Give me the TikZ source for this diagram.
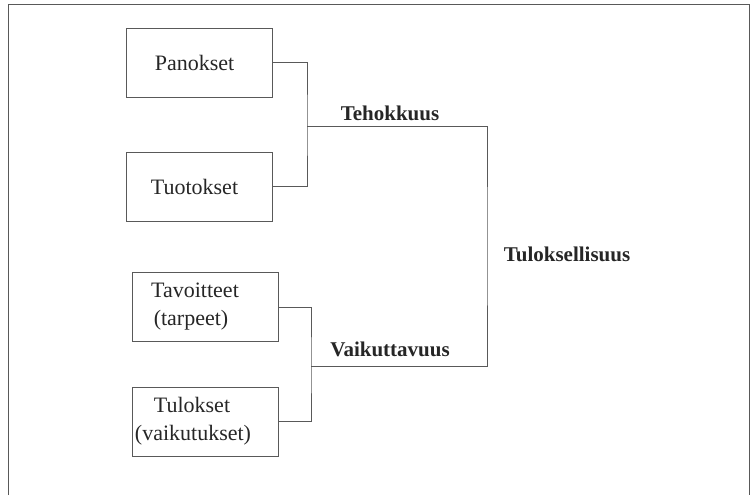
\documentclass[tikz,border=0pt]{standalone}
\usepackage{fontspec}
\setmainfont{Liberation Serif}
\tikzset{
  box/.style={draw=black!65,line width=0.9pt,minimum width=146pt,minimum height=69pt,
    inner sep=0pt,align=center,text=black!85,font=\fontsize{22}{28}\selectfont},
  lbl/.style={text=black!85,font=\fontsize{21}{25}\selectfont\bfseries,inner sep=0pt},
  link/.style={draw=black!65,line width=0.9pt}
}
\begin{document}
\begin{tikzpicture}[x=1pt,y=-1pt]
\useasboundingbox (0,0) rectangle (751,495);
\draw[link] (8,495) -- (8,4) -- (749,4) -- (749,495);
\node[box] (pan) at (199.5,62.5) {Panokset\hspace*{10pt}};
\node[box] (tuo) at (199.5,186.5) {Tuotokset\hspace*{10pt}};
\node[box] (tav) at (205,307) {Tavoitteet\hspace*{20pt}\\(tarpeet)\hspace*{28pt}};
\node[box] (tulo) at (205,421.5) {Tulokset\hspace*{26pt}\\(vaikutukset)\hspace*{24pt}};
\coordinate (teh) at (307,126);
\coordinate (vai) at (311,366);
\coordinate (tul) at (487,246);
\draw[link] (pan.east) -| (teh) |- (tuo.east);
\draw[link] (tav.east) -| (vai) |- (tulo.east);
\draw[link] (teh) -| (tul) |- (vai);
\node[lbl] (tehlbl) at (390,113) {Tehokkuus};
\node[lbl] (vailbl) at (390,349) {Vaikuttavuus};
\node[lbl] (tullbl) at (567,254) {Tuloksellisuus};
\end{tikzpicture}
\end{document}
